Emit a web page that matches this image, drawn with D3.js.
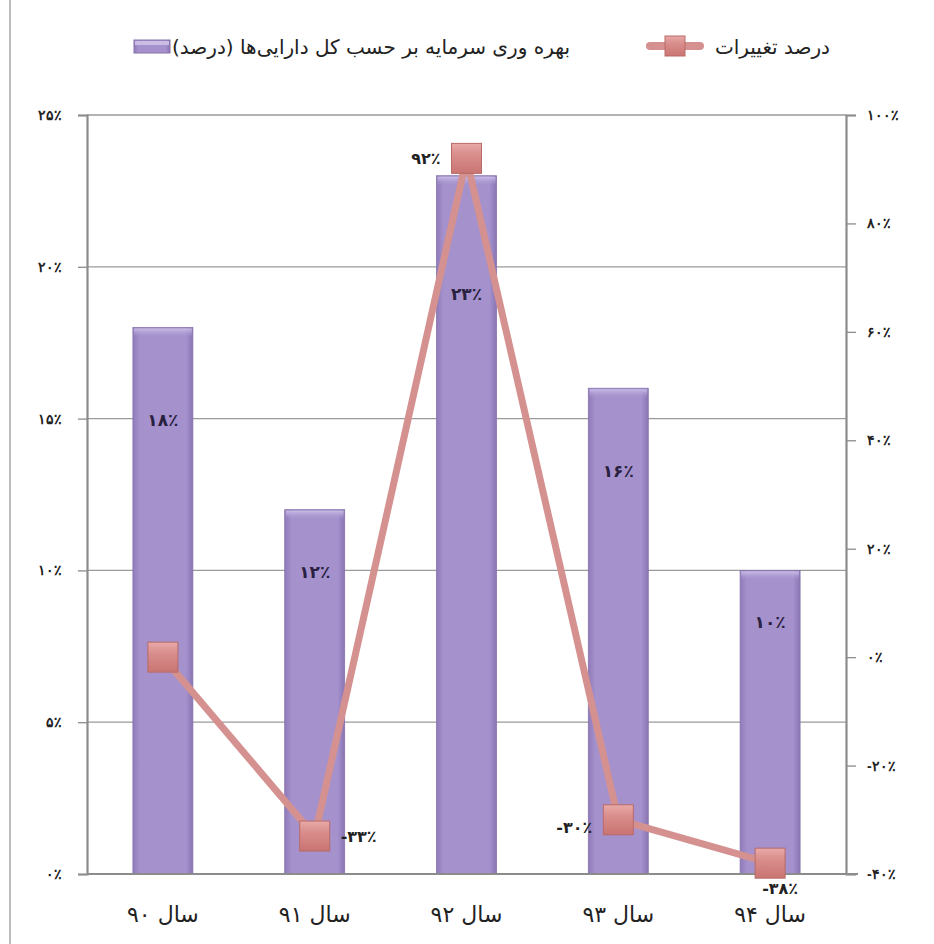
<!DOCTYPE html>
<html>
<head>
<meta charset="utf-8">
<script src="https://cdn.jsdelivr.net/npm/d3@7"></script>
<style>
  html, body { margin: 0; padding: 0; background: #fff; }
  svg { display: block; font-family: "DejaVu Sans", sans-serif; }
</style>
</head>
<body>
<svg id="chart" width="934" height="944"></svg>
<script>
// داده‌ها
const years = ["سال ۹۰", "سال ۹۱", "سال ۹۲", "سال ۹۳", "سال ۹۴"];
const productivity = [18, 12, 23, 16, 10];          // درصد
const changes = [0, -33, 92, -30, -38];             // درصد تغییرات
const changeLabels = [null, "-۳۳٪", "۹۲٪", "-۳۰٪", "-۳۸٪"];
const leftTicks = [0, 5, 10, 15, 20, 25];
const rightTicks = [-40, -20, 0, 20, 40, 60, 80, 100];
const seriesNames = ["بهره وری سرمایه بر حسب کل دارایی‌ها (درصد)", "درصد تغییرات"];

const labelSide = [null, "right", "left", "left", "below"];

const fa = s => String(s).replace(/\d/g, c => "۰۱۲۳۴۵۶۷۸۹"[c]);
const pct = v => (v < 0 ? "-" : "") + fa(Math.abs(v)) + "٪";

const svg = d3.select("#chart");
const plotL = 87, plotR = 846, plotT = 115, plotB = 874;

const x = d3.scaleBand().domain(years).range([plotL, plotR])
    .paddingInner(0.605).paddingOuter(0.3025);
const yL = d3.scaleLinear().domain([0, 25]).range([plotB, plotT]);
const yR = d3.scaleLinear().domain([-40, 100]).range([plotB, plotT]);

const defs = svg.append("defs");
const barGrad = defs.append("linearGradient").attr("id", "barGrad")
    .attr("x1", 0).attr("x2", 1).attr("y1", 0).attr("y2", 0);
barGrad.append("stop").attr("offset", "0").attr("stop-color", "#8f7bb9");
barGrad.append("stop").attr("offset", "0.12").attr("stop-color", "#a592cd");
barGrad.append("stop").attr("offset", "0.88").attr("stop-color", "#a592cd");
barGrad.append("stop").attr("offset", "1").attr("stop-color", "#8a75b3");

const topGrad = defs.append("linearGradient").attr("id", "topGrad")
    .attr("x1", 0).attr("x2", 0).attr("y1", 0).attr("y2", 1);
topGrad.append("stop").attr("offset", "0").attr("stop-color", "#c9bde6");
topGrad.append("stop").attr("offset", "1").attr("stop-color", "#a592cd").attr("stop-opacity", 0);

const mkGrad = defs.append("linearGradient").attr("id", "mkGrad")
    .attr("x1", 0).attr("x2", 0).attr("y1", 0).attr("y2", 1);
mkGrad.append("stop").attr("offset", "0").attr("stop-color", "#e9aaa8");
mkGrad.append("stop").attr("offset", "0.35").attr("stop-color", "#d98f8d");
mkGrad.append("stop").attr("offset", "1").attr("stop-color", "#c97472");

// قاب بیرونی
svg.append("line").attr("x1", 10).attr("x2", 10).attr("y1", 0).attr("y2", 944)
    .attr("stroke", "#a6a6a6").attr("stroke-width", 1.5);

// خطوط شبکه
svg.append("g").selectAll("line").data(leftTicks.filter(d => d > 0)).join("line")
    .attr("x1", plotL).attr("x2", plotR)
    .attr("y1", d => yL(d)).attr("y2", d => yL(d))
    .attr("stroke", "#9a9a9a").attr("stroke-width", 1.3);

// محورها
const axisL = svg.append("g").attr("transform", `translate(${plotL},0)`)
    .call(d3.axisLeft(yL).tickValues(leftTicks).tickSize(9).tickPadding(16).tickFormat(pct));
const axisR = svg.append("g").attr("transform", `translate(${plotR},0)`)
    .call(d3.axisRight(yR).tickValues(rightTicks).tickSize(10).tickPadding(11).tickFormat(pct));
[axisL, axisR].forEach(a => {
    a.select(".domain").attr("stroke", "#8c8c8c").attr("stroke-width", 2.2);
    a.selectAll(".tick line").attr("stroke", "#8c8c8c").attr("stroke-width", 1.3);
    a.selectAll(".tick text").attr("font-size", 14).attr("font-weight", "bold")
        .attr("fill", "#222").attr("direction", "ltr");
});

// میله‌ها
const bars = svg.append("g");
bars.selectAll("rect.bar").data(productivity).join("rect").attr("class", "bar")
    .attr("x", (d, i) => x(years[i]))
    .attr("y", d => yL(d))
    .attr("width", x.bandwidth())
    .attr("height", d => plotB - yL(d))
    .attr("fill", "url(#barGrad)")
    .attr("stroke", "#8672ad").attr("stroke-width", 0.8);
bars.selectAll("rect.bevel").data(productivity).join("rect").attr("class", "bevel")
    .attr("x", (d, i) => x(years[i]) + 1)
    .attr("y", d => yL(d) + 1)
    .attr("width", x.bandwidth() - 2)
    .attr("height", 9)
    .attr("fill", "url(#topGrad)");

// محور افقی
svg.append("line").attr("x1", plotL).attr("x2", plotR + 12)
    .attr("y1", plotB).attr("y2", plotB)
    .attr("stroke", "#8c8c8c").attr("stroke-width", 2.2);

// برچسب میله‌ها
svg.append("g").selectAll("text").data(productivity).join("text")
    .attr("x", (d, i) => x(years[i]) + x.bandwidth() / 2)
    .attr("y", d => yL(d * 0.83) + 6)
    .attr("text-anchor", "middle")
    .attr("direction", "ltr")
    .attr("font-size", 17).attr("font-weight", "bold").attr("fill", "#2a2040")
    .text(d => fa(d) + "٪");

// خط تغییرات
const cx = i => x(years[i]) + x.bandwidth() / 2;
svg.append("path").datum(changes)
    .attr("d", d3.line().x((d, i) => cx(i)).y(d => yR(d)))
    .attr("fill", "none").attr("stroke", "#d4918f").attr("stroke-width", 7)
    .attr("stroke-linejoin", "round");

const mk = 30;
svg.append("g").selectAll("rect").data(changes).join("rect")
    .attr("x", (d, i) => cx(i) - mk / 2)
    .attr("y", d => yR(d) - mk / 2)
    .attr("width", mk).attr("height", mk)
    .attr("fill", "url(#mkGrad)")
    .attr("stroke", "#b86a68").attr("stroke-width", 1);

// برچسب تغییرات
const pts = changes.map((v, i) => ({ v, i, label: changeLabels[i], side: labelSide[i] }))
    .filter(p => p.label !== null);
svg.append("g").selectAll("text").data(pts).join("text")
    .attr("x", p => p.side === "right" ? cx(p.i) + 26 : p.side === "left" ? cx(p.i) - 26 : cx(p.i) + 10)
    .attr("y", p => p.side === "below" ? yR(p.v) + 31 : yR(p.v) + (p.v < 0 && p.side === "left" ? 13 : 6))
    .attr("text-anchor", p => p.side === "right" ? "start" : p.side === "left" ? "end" : "middle")
    .attr("direction", "ltr")
    .attr("font-size", 16).attr("font-weight", "bold").attr("fill", "#222")
    .text(p => p.label);

// برچسب دسته‌ها
svg.append("g").selectAll("text").data(years).join("text")
    .attr("x", d => x(d) + x.bandwidth() / 2)
    .attr("y", 922)
    .attr("text-anchor", "middle")
    .attr("font-size", 22).attr("fill", "#222")
    .text(d => d);

// راهنما
const legend = svg.append("g");
legend.append("rect").attr("x", 134).attr("y", 40).attr("width", 36).attr("height", 13)
    .attr("fill", "url(#barGrad)").attr("stroke", "#8672ad");
legend.append("rect").attr("x", 135).attr("y", 41).attr("width", 34).attr("height", 4)
    .attr("fill", "#c9bde6");
legend.append("text").attr("x", 172).attr("y", 54).attr("text-anchor", "start")
    .attr("direction", "ltr")
    .attr("font-size", 20).attr("fill", "#222").text(seriesNames[0]);
legend.append("line").attr("x1", 650).attr("x2", 700).attr("y1", 46).attr("y2", 46)
    .attr("stroke", "#d4918f").attr("stroke-width", 8).attr("stroke-linecap", "round");
legend.append("rect").attr("x", 665).attr("y", 36).attr("width", 20).attr("height", 20)
    .attr("fill", "url(#mkGrad)").attr("stroke", "#b86a68");
legend.append("text").attr("x", 830).attr("y", 54).attr("text-anchor", "end")
    .attr("direction", "ltr")
    .attr("font-size", 20).attr("fill", "#222").text(seriesNames[1]);
</script>
</body>
</html>
